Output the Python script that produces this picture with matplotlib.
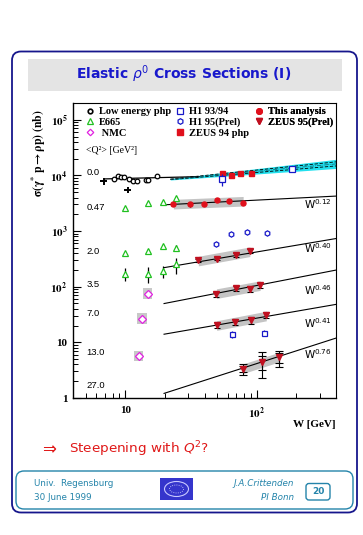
import numpy as np
import matplotlib
matplotlib.use('Agg')
import matplotlib.pyplot as plt
from matplotlib.patches import FancyBboxPatch, Rectangle, Ellipse
from matplotlib.lines import Line2D

# ---- values ----
# Q2 = 0 photoproduction
W_lowe = [8.15, 8.74, 9.3, 9.8, 10.6, 11.4, 12.3, 14.35, 15.0, 17.3]
sig_lowe = [8650, 9920, 9550, 9300, 8650, 8000, 7840, 8300, 8300, 9600]
W_lowe_x = [6.85, 10.4]
sig_lowe_x = [7840, 5500]
W_z94 = [54.6, 63.8, 73.9, 89.6]
sig_z94 = [10900, 10300, 10900, 10900]
W_h1_php = [54.6, 185]
sig_h1_php = [8650, 13100]
err_h1_php = [2100, 1200]

# E665
W_e665 = [10, 14.9, 19.2, 24.2]
sig_e665_a = [2610, 3210, 3320, 3930]
sig_e665_b = [408, 436, 536, 502]
err_e665_b = [0, 45, 0, 55]
sig_e665_c = [172, 172, 191, 252]
err_e665_c = [45, 55, 48, 80]

# NMC
W_nmc = [14.8, 13.4, 12.6]
sig_nmc = [75.2, 26.8, 5.66]

# This analysis, Q2 = 0.47
W_this = [23.2, 31.0, 39.6, 49.8, 61.9, 78.7]
sig_this = [3070, 3000, 3070, 3660, 3460, 3210]
err_this = [250, 250, 260, 300, 280, 270]

# ZEUS 95 (Prel)
W_z95_2 = [35.9, 49.5, 69.7, 88.5]
sig_z95_2 = [297, 319, 376, 436]
err_z95_2 = [20, 22, 28, 32]
W_z95_35 = [49.3, 69.7, 88.5, 106]
sig_z95_35 = [73.1, 93.5, 91, 106]
err_z95_35 = [7, 10, 10, 11]
W_z95_7 = [49.5, 68.5, 89.8, 118]
sig_z95_7 = [20.3, 23.3, 25.0, 30.7]
err_z95_7 = [2.5, 3.0, 3.8, 3.8]
W_z95_13 = [78.7, 109.6, 148.6]
sig_z95_13 = [3.31, 4.47, 5.36]
err_z95_13 = [0.7, 2.2, 1.75]
stat_z95_13 = [0.4, 1.3, 1.1]

# H1 95 (Prel)
W_h1_2 = [49.2, 63.8, 84.4, 119.6]
sig_h1_2 = [575, 869, 956, 917]
W_h1_7 = [64.3, 113]
sig_h1_7 = [14.0, 15.0]
err_h1_7 = [1.8, 2.0]

# power-law fits  sigma = norm * (W / 19.7)^delta
fit_norm = [2960, 220, 49.8, 14.0, 1.21]
fit_pow = [0.12, 0.40, 0.46, 0.41, 0.76]
fit_wlab = [3000, 488, 86, 22, 6.15]

# photoproduction fit and its band
php_norm = 9500
php_pow = 0.22

q2_labels = ['0.0', '0.47', '2.0', '3.5', '7.0', '13.0', '27.0']
q2_lab_sig = [11400, 2680, 436, 110, 33, 6.6, 1.71]

# ---- figure ----
fig = plt.figure(figsize=(3.63, 5.35), dpi=100)
bg = fig.add_axes([0, 0, 1, 1])
bg.set_xlim(0, 363)
bg.set_ylim(535, 0)
bg.axis('off')

navy = '#16168c'
teal = '#2484aa'
bg.add_patch(FancyBboxPatch((12, 51.5), 345, 461, boxstyle='round,pad=0,rounding_size=9',
                            ec=navy, fc='none', lw=1.3))
bg.add_patch(Rectangle((28, 58.5), 314, 32, fc='#e4e4e4', ec='none'))
bg.text(184, 74, r'Elastic $\rho^0$ Cross Sections (I)', ha='center', va='center',
        color='#1818cc', fontsize=10, fontweight='bold', family='DejaVu Sans',
        math_fontfamily='dejavusans')

bg.text(42, 449, '\u21d2', color='#e01818', fontsize=12, ha='left', va='center',
        family='DejaVu Sans')
bg.text(69, 449, r'Steepening with $Q^2$?', color='#e01818', fontsize=9.7,
        ha='left', va='center', family='DejaVu Sans', math_fontfamily='dejavusans')

bg.add_patch(FancyBboxPatch((16, 471), 337, 38, boxstyle='round,pad=0,rounding_size=8',
                            ec=teal, fc='none', lw=1.0))
bg.text(34, 483.5, 'Univ.  Regensburg', color=teal, fontsize=6.3, va='center')
bg.text(34, 497.5, '30 June 1999', color=teal, fontsize=6.3, va='center')
bg.text(294, 483.5, 'J.A.Crittenden', color=teal, fontsize=6.3, va='center',
        ha='right', style='italic')
bg.text(294, 497.5, 'PI Bonn', color=teal, fontsize=6.3, va='center',
        ha='right', style='italic')
bg.add_patch(FancyBboxPatch((306, 483.5), 24, 16.5, boxstyle='round,pad=0,rounding_size=3',
                            ec=teal, fc='none', lw=1.0))
bg.text(318, 492, '20', color=teal, fontsize=6.5, fontweight='bold',
        ha='center', va='center')
bg.add_patch(Rectangle((160, 478), 33, 22, fc='#3535cc', ec='none'))
bg.add_patch(Ellipse((176.5, 489), 24, 15, fc='none', ec='#c8c8ff', lw=0.8))
bg.add_patch(Ellipse((176.5, 489), 14, 8, fc='none', ec='#e0e0ff', lw=0.6, ls=':'))

# y label and axis title
fig.text(39 / 363, 1 - 153 / 535, r'$\mathbf{\sigma(\gamma^{*}\ p \rightarrow \rho p)\ (nb)}$',
         rotation=90, ha='center', va='center', fontsize=8.5, math_fontfamily='stix')

ax = fig.add_axes([73 / 363, 1 - 398 / 535, 263 / 363, 295 / 535])
ax.set_xscale('log')
ax.set_yscale('log')
ax.set_xlim(4, 400)
ax.set_ylim(1, 2e5)
for s in ax.spines.values():
    s.set_linewidth(1.0)
ax.spines['top'].set_linewidth(0.8)
ax.spines['right'].set_linewidth(0.8)

ax.tick_params(which='both', direction='in', top=False, right=False)
ax.tick_params(which='major', length=6, width=0.8)
ax.tick_params(which='minor', length=3.5, width=0.7)
ax.set_xticks([10, 100])
ax.set_xticklabels(['10', r'$\mathbf{10^{2}}$'], fontsize=8, fontweight='bold',
                   family='Liberation Serif', math_fontfamily='stix')
ax.set_yticks([1, 10, 100, 1e3, 1e4, 1e5])
ax.set_yticklabels(['1', '10', r'$\mathbf{10^{2}}$', r'$\mathbf{10^{3}}$',
                    r'$\mathbf{10^{4}}$', r'$\mathbf{10^{5}}$'],
                   fontsize=8, fontweight='bold', family='Liberation Serif',
                   math_fontfamily='stix')
ax.tick_params(axis='x', which='major', pad=6)
ax.tick_params(axis='y', which='major', pad=4)
ax.set_xlabel('W [GeV]', fontsize=8, fontweight='bold', family='Liberation Serif')
ax.xaxis.set_label_coords(1.0, -0.075)
ax.xaxis.label.set_horizontalalignment('right')

# photoproduction curve + cyan band
Wl = np.array([7, 36.4])
ax.plot(Wl, [8650, 9500], color='black', lw=0.9, zorder=2)
Wb = np.geomspace(22, 400, 60)
cen = php_norm * (Wb / 36.4) ** php_pow
hw = 0.012 + 0.07 * np.log10(Wb / 22) / np.log10(400 / 22)
ax.fill_between(Wb, cen * 10 ** (-hw), cen * 10 ** hw, color='#22e0ee', lw=0, zorder=1)
ax.plot(Wb, cen * 10 ** (0.45 * hw), color='black', lw=0.6, ls=(0, (4, 2)), zorder=2)
ax.plot(Wb, cen * 10 ** (-0.45 * hw), color='black', lw=0.6, ls=(0, (4, 2)), zorder=2)
ax.plot(Wb, cen, color='#0b6070', lw=0.5, ls='-.', zorder=2)

# power-law fit lines
Wf = np.geomspace(19.7, 400, 50)
for nrm, pw, ylab in zip(fit_norm, fit_pow, fit_wlab):
    ax.plot(Wf, nrm * (Wf / 19.7) ** pw, color='black', lw=0.8, zorder=2)
    ax.text(372, ylab, r'$\mathsf{W^{%.2f}}$' % pw, ha='right', va='center',
            fontsize=7.5, math_fontfamily='dejavusans', color='black')

# systematic grey bands
bandc = '#c4c4c4'
for Wd, sd in [(W_this, sig_this), (W_z95_2, sig_z95_2), (W_z95_35, sig_z95_35),
               (W_z95_7, sig_z95_7), (W_z95_13, sig_z95_13)]:
    Wd = np.array(Wd)
    sd = np.array(sd)
    lo = 10 ** (np.polyval(np.polyfit(np.log10(Wd), np.log10(sd), 1), np.log10(Wd)))
    ax.fill_between(Wd, lo * 0.82, lo * 1.22, color=bandc, lw=0, zorder=1)

# NMC grey boxes
for w, s in zip(W_nmc, sig_nmc):
    ax.add_patch(Rectangle((w / 1.085, s / 1.25), w * 1.085 - w / 1.085, s * 1.25 - s / 1.25,
                           fc='#c8c8c8', ec='none', zorder=1))

red = '#e0101c'
dred = '#c01020'
blue = '#1818c8'
green = '#20c020'
mag = '#e020e0'

ax.errorbar(W_lowe, sig_lowe, yerr=np.array(sig_lowe) * 0.08, fmt='o', ms=3.3, mfc='white',
            mec='black', mew=0.9, ecolor='black', elinewidth=0.9, zorder=4)
ax.errorbar(W_lowe_x, sig_lowe_x, yerr=np.array(sig_lowe_x) * 0.14,
            xerr=np.array(W_lowe_x) * 0.06, fmt='none', ecolor='black', elinewidth=1.4, zorder=4)

ax.errorbar(W_e665, sig_e665_a, fmt='^', ms=3.8, mfc='white', mec=green, mew=0.9, zorder=4)
ax.errorbar(W_e665, sig_e665_b, yerr=err_e665_b, fmt='^', ms=3.8, mfc='white', mec=green,
            mew=0.9, ecolor='black', elinewidth=0.9, zorder=4)
ax.errorbar(W_e665, sig_e665_c, yerr=err_e665_c, fmt='^', ms=3.8, mfc='white', mec=green,
            mew=0.9, ecolor='black', elinewidth=0.9, zorder=4)

ax.plot(W_nmc, sig_nmc, 'D', ms=3.8, mfc='white', mec=mag, mew=0.9, zorder=4)

ax.errorbar(W_h1_php, sig_h1_php, yerr=err_h1_php, fmt='s', ms=3.8, mfc='white', mec=blue,
            mew=0.9, ecolor=blue, elinewidth=0.9, zorder=5)
ax.errorbar(W_h1_7, sig_h1_7, yerr=err_h1_7, fmt='s', ms=3.6, mfc='white', mec=blue,
            mew=0.9, ecolor=blue, elinewidth=0.9, zorder=5)
ax.plot(W_h1_2, sig_h1_2, 'h', ms=3.8, mfc='white', mec=blue, mew=0.9, zorder=5)

ax.plot(W_z94, sig_z94, 's', ms=3.6, color=red, zorder=4)
ax.errorbar(W_this, sig_this, yerr=err_this, fmt='o', ms=3.6, color=red, ecolor='black',
            elinewidth=0.8, zorder=4)

for Wd, sd, ed in [(W_z95_2, sig_z95_2, err_z95_2), (W_z95_35, sig_z95_35, err_z95_35),
                   (W_z95_7, sig_z95_7, err_z95_7)]:
    ax.errorbar(Wd, sd, yerr=ed, fmt='v', ms=3.8, color=dred, ecolor='black',
                elinewidth=0.8, capsize=2.2, capthick=0.8, zorder=4)
ax.errorbar(W_z95_13, sig_z95_13, yerr=err_z95_13, fmt='v', ms=3.8, color=dred,
            ecolor='black', elinewidth=0.8, capsize=3, capthick=0.8, zorder=4)
ax.errorbar(W_z95_13, sig_z95_13, yerr=stat_z95_13, fmt='none', ecolor='black',
            elinewidth=0.8, capsize=3, capthick=0.8, zorder=4)

# Q2 labels
for lab, s in zip(q2_labels, q2_lab_sig):
    ax.text(5.05, s, lab, ha='left', va='center', fontsize=6.8, family='Liberation Sans')
ax.text(5.05, 28000, '<Q\u00b2> [GeV\u00b2]', ha='left', va='center', fontsize=7,
        family='Liberation Serif')

# legend, three columns
lfont = dict(family='Liberation Serif', weight='bold', size=7.5)
col1 = [Line2D([], [], ls='none', marker='o', ms=3.3, mfc='white', mec='black', mew=1.2),
        Line2D([], [], ls='none', marker='^', ms=3.8, mfc='white', mec=green, mew=0.9),
        Line2D([], [], ls='none', marker='D', ms=3.3, mfc='white', mec=mag, mew=0.9)]
col2 = [Line2D([], [], ls='none', marker='s', ms=4, mfc='white', mec=blue, mew=0.9),
        Line2D([], [], ls='none', marker='h', ms=4, mfc='white', mec=blue, mew=0.9),
        Line2D([], [], ls='none', marker='s', ms=4, color=red)]
col3 = [Line2D([], [], ls='none', marker='o', ms=4, color=red),
        Line2D([], [], ls='none', marker='v', ms=4, color=dred)]
labs = [['Low energy php', 'E665', ' NMC'],
        ['H1 93/94', 'H1 95(Prel)', 'ZEUS 94 php'],
        ['This analysis', 'ZEUS 95(Prel)']]
for hs, ls, xa in zip([col1, col2, col3], labs, [0.03, 0.372, 0.672]):
    lg = ax.legend(hs, ls, loc='upper left', bbox_to_anchor=(xa, 1.0), frameon=False,
                   prop=lfont, handlelength=1.0, handletextpad=0.35, labelspacing=0.12,
                   borderpad=0.4, borderaxespad=0)
    ax.add_artist(lg)

fig.savefig('out.png', dpi=100, facecolor='white')
